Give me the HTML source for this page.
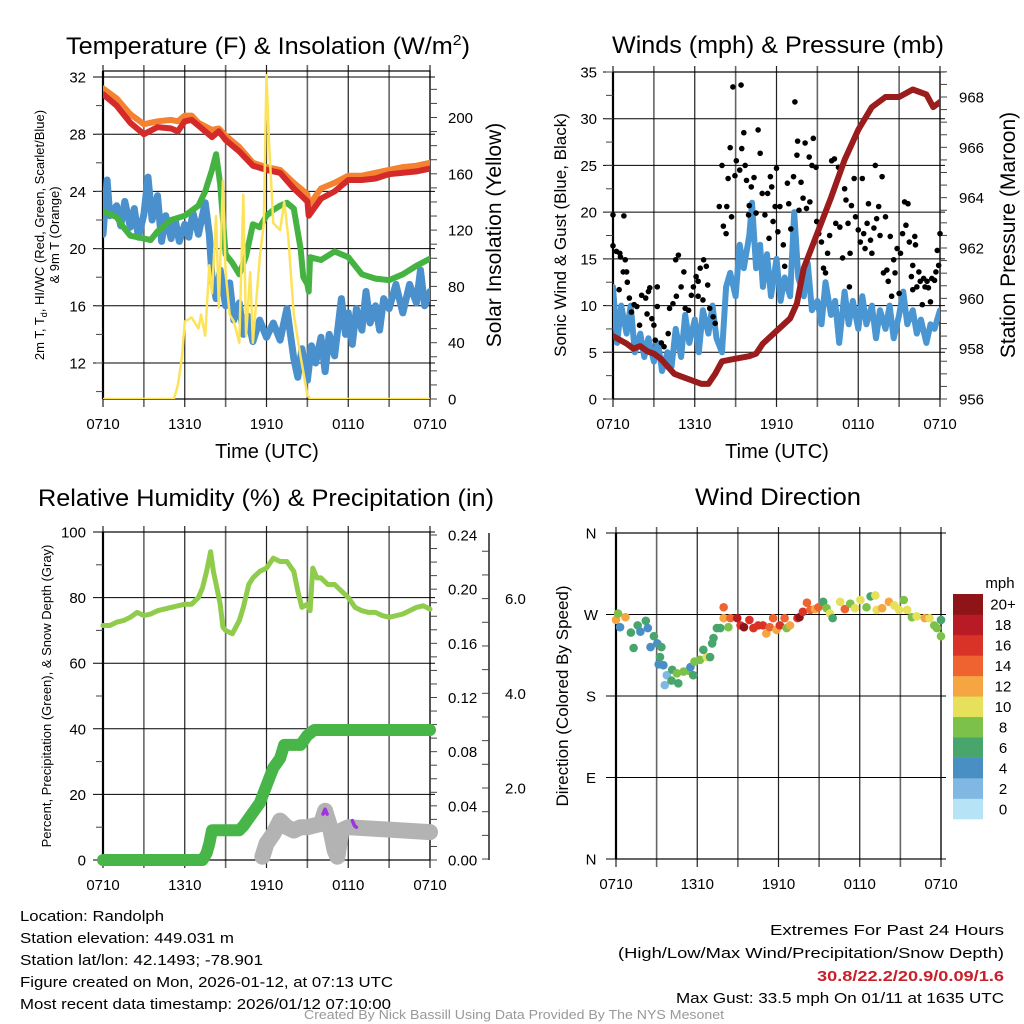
<!DOCTYPE html>
<html><head><meta charset="utf-8"><title>Randolph Meteogram</title>
<style>
html,body{margin:0;padding:0;background:#fff;}
svg{display:block;font-family:"Liberation Sans",Arial,sans-serif;}
</style></head>
<body>
<svg id="root" width="1024" height="1024" viewBox="0 0 1024 1024" xmlns="http://www.w3.org/2000/svg">
<rect x="0" y="0" width="1024" height="1024" fill="#fff"/>
<text x="268" y="54" font-size="24" text-anchor="middle" textLength="404" lengthAdjust="spacingAndGlyphs">Temperature (F) &amp; Insolation (W/m<tspan dy="-9" font-size="15">2</tspan><tspan dy="9">)</tspan></text>
<text x="778" y="53" font-size="24" text-anchor="middle" textLength="332" lengthAdjust="spacingAndGlyphs">Winds (mph) &amp; Pressure (mb)</text>
<text x="266" y="506" font-size="24" text-anchor="middle" textLength="456" lengthAdjust="spacingAndGlyphs">Relative Humidity (%) &amp; Precipitation (in)</text>
<text x="778" y="505" font-size="24" text-anchor="middle" textLength="166" lengthAdjust="spacingAndGlyphs">Wind Direction</text>

<text x="267" y="458" font-size="20" text-anchor="middle">Time (UTC)</text>
<text x="777" y="458" font-size="20" text-anchor="middle">Time (UTC)</text>

<text transform="translate(44,235) rotate(-90)" font-size="13" text-anchor="middle">2m T, T<tspan dy="3" font-size="9">d</tspan><tspan dy="-3">, HI/WC (Red, Green, Scarlet/Blue)</tspan></text>
<text transform="translate(59,235) rotate(-90)" font-size="13" text-anchor="middle">&amp; 9m T (Orange)</text>
<text transform="translate(501,235) rotate(-90)" font-size="21" text-anchor="middle">Solar Insolation (Yellow)</text>
<text transform="translate(566,235) rotate(-90)" font-size="17" text-anchor="middle">Sonic Wind &amp; Gust (Blue, Black)</text>
<text transform="translate(1015,235) rotate(-90)" font-size="21" text-anchor="middle">Station Pressure (Maroon)</text>
<text transform="translate(51,696) rotate(-90)" font-size="13" text-anchor="middle">Percent, Precipitation (Green), &amp; Snow Depth (Gray)</text>
<text transform="translate(568,696) rotate(-90)" font-size="17" text-anchor="middle">Direction (Colored By Speed)</text>

<g font-size="15">
<text x="20" y="921" textLength="144" lengthAdjust="spacingAndGlyphs">Location: Randolph</text>
<text x="20" y="943" textLength="214" lengthAdjust="spacingAndGlyphs">Station elevation: 449.031 m</text>
<text x="20" y="965" textLength="243" lengthAdjust="spacingAndGlyphs">Station lat/lon: 42.1493; -78.901</text>
<text x="20" y="987" textLength="373" lengthAdjust="spacingAndGlyphs">Figure created on Mon, 2026-01-12, at 07:13 UTC</text>
<text x="20" y="1009" textLength="371" lengthAdjust="spacingAndGlyphs">Most recent data timestamp: 2026/01/12 07:10:00</text>
</g>
<g font-size="15" text-anchor="end">
<text x="1004" y="935" textLength="234" lengthAdjust="spacingAndGlyphs">Extremes For Past 24 Hours</text>
<text x="1004" y="958" textLength="386" lengthAdjust="spacingAndGlyphs">(High/Low/Max Wind/Precipitation/Snow Depth)</text>
<text x="1004" y="981" font-weight="bold" fill="#c8202a" textLength="187" lengthAdjust="spacingAndGlyphs">30.8/22.2/20.9/0.09/1.6</text>
<text x="1004" y="1003" textLength="328" lengthAdjust="spacingAndGlyphs">Max Gust: 33.5 mph On 01/11 at 1635 UTC</text>
</g>
<text x="514" y="1019" font-size="13" fill="#999" text-anchor="middle" textLength="420" lengthAdjust="spacingAndGlyphs">Created By Nick Bassill Using Data Provided By The NYS Mesonet</text>
<text x="1000" y="588" font-size="15" text-anchor="middle">mph</text>
</svg>
<script>
// ---------------- DATA ----------------
const xTickLabels = ["0710","1310","1910","0110","0710"];
// Temperature panel (hours since 0710)
const tempHours = [0,1,2,3,4,5,5.5,6,6.5,7,8,8.5,9,10,11,12,13,14,15,15.1,16,17,18,19,20,21,22,23,24];
const tempRed =   [30.8,30.0,28.8,28.0,28.5,28.4,28.2,28.9,29.0,28.6,27.8,28.2,27.6,26.8,25.8,25.5,25.3,24.2,23.3,22.3,23.5,24.0,24.8,24.8,24.9,25.2,25.3,25.4,25.6];
const tempOrange =[31.2,30.5,29.4,28.7,28.9,29.0,28.9,29.3,29.3,28.8,28.3,28.4,27.9,27.1,26.0,25.7,25.5,24.6,23.8,23.0,24.2,24.6,25.1,25.1,25.3,25.5,25.7,25.8,26.0];
const greenHours = [0,1,1.5,2,3,3.5,4,5,6,7,7.5,8,8.3,8.6,9,9.5,10,10.5,11,11.5,12,12.5,13,13.5,14,14.5,14.7,15,15.1,15.2,16,17,18,19,20,21,22,23,24];
const tempGreen = [22.6,22.2,21.5,20.9,20.7,20.6,21.2,22.0,22.3,23.0,24.0,25.5,26.6,24.5,19.6,19.0,18.2,19.5,21.7,21.5,22.3,22.7,23.0,23.2,22.8,20.0,18.0,17.5,17.0,19.4,19.2,19.8,19.4,18.2,17.9,17.8,18.2,18.8,19.3];
const blueHours = [0,0.3,0.5,1,1.3,1.6,2,2.3,2.6,3,3.3,3.6,4,4.3,4.6,5,5.3,5.6,6,6.3,6.6,7,7.5,7.8,8,8.3,8.6,9,9.3,9.6,10,10.3,10.6,11,11.5,12,12.5,13,13.5,14,14.3,14.6,15,15.3,15.6,16,16.3,16.6,17,17.5,17.8,18,18.3,18.6,19,19.3,19.6,20,20.3,20.6,21,21.5,22,22.5,23,23.3,23.6,24];
const tempBlue = [21,24.8,22.3,23.0,21.6,23.3,21.5,22.8,20.8,22.4,25.0,22.0,23.7,20.5,22.3,20.7,22.0,20.5,21.7,20.8,22.5,21.0,23.2,21.0,18.0,16.5,18.5,16.0,17.6,15.0,16.2,14.0,15.3,13.5,15.0,13.8,14.8,13.6,15.8,12.3,11.0,13.0,10.8,13.2,12.0,13.8,11.4,14.0,12.5,16.5,14.0,15.5,13.3,15.8,14.3,17.0,14.8,16.0,14.3,16.5,15.8,17.5,15.5,17.5,16.2,18.5,16.0,17.0];
const solarHours = [0,5.2,5.5,5.8,6,6.5,7,7.2,7.5,7.8,8,8.3,8.5,8.8,9,9.3,9.6,10,10.3,10.5,10.8,11,11.5,11.8,12,12.2,12.5,13,13.3,13.6,14,14.5,15,15.2,24];
const solarVals =  [0,0,10,30,55,58,50,60,45,95,75,130,65,155,90,60,55,40,145,45,90,40,100,125,230,180,125,120,140,115,60,30,3,0,0];
// Winds panel
const presHours = [0,1,1.5,2,2.5,3,3.5,4,4.5,5,6,6.5,7,7.5,8,9,10,10.5,11,12,13,13.5,14,15,16,17,18,19,20,21,22,23,23.5,24];
const presVals =  [958.5,958.2,958.0,958.1,957.9,957.8,957.6,957.3,957.0,956.9,956.7,956.6,956.6,957.0,957.5,957.6,957.7,957.8,958.2,958.7,959.2,959.8,961.2,962.6,964.0,965.5,966.7,967.6,968.0,968.0,968.3,968.1,967.6,967.8];
const windHours = [0,0.3,0.6,1,1.3,1.6,2,2.3,2.6,3,3.3,3.6,4,4.3,4.6,5,5.3,5.6,6,6.3,6.6,7,7.3,7.6,8,8.3,8.6,9,9.3,9.6,10,10.2,10.5,10.8,11,11.3,11.6,12,12.3,12.6,13,13.3,13.6,14,14.3,14.6,15,15.3,15.6,16,16.3,16.6,17,17.3,17.6,18,18.3,18.6,19,19.3,19.6,20,20.3,20.6,21,21.3,21.6,22,22.3,22.6,23,23.3,23.6,24];
const windVals =  [12,6,10,7,10,5,7,4.5,6.5,4,6,3,5,3.5,7.5,4.5,9,6,8.5,5,9.5,7,10,6.5,5,12,13.5,11,16.5,14,17.5,21,14,16.5,12,15.5,11,15,10.5,13,11,20,13,11,14.5,9.5,10.5,8,12.5,9,10.5,6,11.5,8,10.5,7.5,11,8,10,6.5,9.5,7.5,10,6.5,9,11.5,8,9.5,7,8.5,6,8,7.5,9.5];
const gustHours = [0,0,0.25,0.5,0.8,0.55,0.9,0.75,1.0,1.05,0.45,1.2,1.35,1.55,1.75,1.95,2.1,2.4,2.5,2.6,2.7,2.85,3.0,3.25,3.25,3.1,3.55,3.75,4.05,4.15,4.4,4.6,4.8,4.65,5.0,5.2,5.3,5.55,5.75,5.9,6.1,6.25,6.4,6.65,6.85,6.25,6.6,6.95,7.1,7.35,7.5,7.8,8.0,8.1,8.3,8.35,8.45,8.6,8.7,8.8,8.95,9.05,9.3,9.4,9.45,9.6,9.7,9.8,9.95,10.0,10.15,10.35,10.5,10.65,10.8,10.95,11.15,11.35,11.45,11.55,11.65,11.75,11.9,12.0,12.1,12.25,12.5,12.6,12.8,12.9,13.05,13.25,13.35,13.5,13.55,13.65,13.8,13.95,14.1,14.2,14.4,14.45,14.6,14.7,14.9,14.95,15.1,15.3,15.45,15.6,15.75,15.9,16.05,16.25,16.35,16.55,16.65,16.85,17.0,17.1,17.25,17.4,17.35,17.5,17.7,17.8,18.0,18.15,18.3,18.4,18.5,18.65,18.75,18.9,19.0,19.15,19.25,19.35,19.5,19.6,19.75,19.85,20.0,20.1,20.2,20.35,20.45,20.6,20.7,20.85,21.0,21.1,21.25,21.4,21.5,21.65,21.75,21.9,22.0,22.0,22.15,22.2,22.3,22.45,22.55,22.7,22.8,22.9,23.05,23.15,23.3,23.4,23.6,23.7,23.8,23.9,24.0];
const gustVals =  [19.7,16.4,15.8,15.6,19.6,15.2,14.9,13.6,13.6,12.5,11.7,10.8,9.3,10.1,9.9,7.9,11.1,10.8,9.1,11.5,11.9,8.6,7.9,12.0,9.9,6.3,6.0,5.6,7.0,9.7,10.2,14.9,15.4,11.0,12.0,13.6,9.7,9.5,11.1,12.0,13.1,12.6,14.0,14.9,14.2,11.0,10.6,12.2,9.7,8.8,8.1,20.6,25.0,18.5,17.7,20.6,23.6,26.9,19.5,33.4,23.9,25.5,24.5,33.6,26.8,28.5,25.0,23.4,19.7,20.7,22.7,23.7,19.9,28.8,26.3,22.0,19.7,22.0,17.2,23.8,22.7,19.0,20.6,24.7,17.9,20.6,16.5,14.2,23.1,20.9,18.2,23.8,31.8,26.1,27.6,20.2,23.2,21.5,27.4,20.4,25.9,21.1,25.0,27.9,24.8,19.0,17.7,16.8,14.0,13.5,15.6,17.5,25.5,25.7,18.8,24.8,18.4,15.1,22.5,21.3,18.8,15.6,12.0,20.7,23.6,19.5,18.1,16.8,23.6,17.7,16.1,18.8,20.9,17.0,15.6,18.3,25.0,19.3,20.6,17.5,23.8,13.5,19.5,13.8,12.6,17.4,11.0,14.9,13.5,16.1,11.3,15.6,17.7,21.1,18.6,20.9,16.8,13.1,14.3,11.7,17.4,16.5,12.0,13.6,12.6,10.1,12.9,12.0,12.6,11.9,10.4,12.9,12.7,13.6,15.9,14.3,17.7];
// Humidity panel
const rhHours = [0,0.5,1,1.5,2,2.5,3,3.5,4,5,6,6.5,7,7.3,7.6,7.9,8.1,8.4,8.6,8.8,9,9.5,10,10.3,10.7,11,11.5,12,12.5,13,13.5,14,14.3,14.6,15,15.2,15.4,15.7,16,16.5,17,17.5,18,18.5,19,19.5,20,20.5,21,22,23,23.5,24];
const rhVals =  [71.5,71.5,72.5,73,74,75.5,74.5,75,76,77,78,78,80,83,88,94,88,82,78,71,70,69,73,77,84,86,88,89,92,91,91,88,82,77,78,76,89,86,86,84,84,82,80,77,76,75.5,75.5,74.5,74,75,77,77.5,76.5];
const precipHours = [0,7.3,7.6,7.8,8,9,10,10.3,11,11.5,12,12.5,13,13.3,14,14.5,15,15.5,24];
const precipVals =  [0,0,0.005,0.012,0.022,0.022,0.022,0.025,0.035,0.042,0.055,0.068,0.075,0.085,0.085,0.085,0.092,0.096,0.096];
const snowHours = [11.7,12,12.5,13,13.5,14,14.5,15,16,16.3,16.6,17,17.2,17.5,18,24];
const snowVals =  [1,5,8,12,10,9,10,10,11,15,11,3,1,9,10,8.5];
const purpleHours1 = [16.15,16.3,16.45]; const purpleVals1 = [14,15.5,14];
const purpleHours2 = [18.3,18.45,18.6]; const purpleVals2 = [12,10.5,10];
// Wind direction panel
const dirHours = [0,0.15,0.3,0.7,1.1,1.3,1.6,1.8,2.2,2.35,2.8,2.55,3.05,3.35,3.25,3.15,3.50,3.75,3.6,4.15,4.1,4.5,4.6,4.99,5.35,5.7,5.5,5.8,6.2,6.7,6.95,6.45,7.1,7.2,7.45,7.7,8.3,7.95,7.95,8.45,8.95,9.2,9.45,9.85,10.15,10.5,10.85,11.1,11.35,11.6,11.85,12.1,12.45,12.6,12.85,13.4,13.55,13.8,14.1,14.35,14.7,14.95,15.3,15.55,15.8,16.0,16.55,16.9,17.3,17.65,18.05,18.5,18.8,19.25,19.15,19.65,20.15,20.55,20.9,21.25,21.5,21.85,22.2,22.8,23.15,23.5,23.7,24.0,24.0];
const dirDeg =  [264,271,256,267,250,233,258,251,263,255,246,234,238,234,223,215,214,203,192,209,197,205,194,207,208,203,212,218,220,223,223,231,238,244,255,255,256,278,266,266,266,258,256,264,255,258,258,249,256,266,253,258,266,255,258,266,267,273,283,275,276,278,284,277,271,266,284,276,282,277,286,278,290,275,291,277,284,280,275,286,275,267,268,266,266,258,255,246,264];
const dirSpeed = [12,8,4,12,6,6,6,4,6,5,6,4,4,6,6,4,4,2,2,6,6,8,6,8,8,6,4,8,8,10,6,6,6,6,6,6,8,14,12,14,18,16,20,16,16,16,16,12,14,14,12,16,14,8,12,16,20,16,14,14,12,14,6,8,10,6,10,14,8,10,10,8,6,10,10,12,12,10,10,8,10,8,10,12,10,8,8,8,6];
const speedColors = ["#b7e3f6","#7fb9e3","#4a8fc4","#48a56c","#7cc24a","#e6e05a","#f5a542","#ef6330","#d93327","#b81b25","#8f1418"];
const speedLabels = ["0","2","4","6","8","10","12","14","16","18","20+"];

// ---------------- DRAWING ----------------
const NS = "http://www.w3.org/2000/svg";
const root = document.getElementById("root");
function mk(tag, attrs, parent) {
  const el = document.createElementNS(NS, tag);
  for (const k in attrs) el.setAttribute(k, attrs[k]);
  (parent || root).appendChild(el);
  return el;
}
function scale(d0, d1, r0, r1) { return v => r0 + (v - d0) / (d1 - d0) * (r1 - r0); }
function pathD(xs, ys, fx, fy) { return xs.map((h, i) => (i ? "L" : "M") + fx(h).toFixed(1) + "," + fy(ys[i]).toFixed(1)).join(""); }

function frame(name, x0, x1, y0, y1, hGrid, fy) {
  const g = mk("g", {});
  
  
  for (let i = 0; i <= 8; i++) {
    const x = x0 + i * (x1 - x0) / 8;
    const ln = mk("line", {x1: x, x2: x, y1: y0 - 6, y2: y1 + 8, stroke: i % 2 ? "#666" : "#222", "stroke-width": i % 2 ? 1.6 : 1.2}, g);
    
    
  }
  hGrid.forEach(v => {
    const y = fy(v);
    const ln = mk("line", {x1: x0 - 10, x2: x1 + 5, y1: y, y2: y, stroke: "#000", "stroke-width": 1}, g);
    
    
  });
  const b = mk("rect", {x: x0, y: y0, width: x1 - x0, height: y1 - y0, fill: "none", stroke: "#000", "stroke-width": 1.2}, g);
  
  
  const lb = mk("line", {x1: x0, x2: x0, y1: y0, y2: y1, stroke: "#000", "stroke-width": 2.2}, g);
  
  
  xTickLabels.forEach((t, i) => {
    const tx = mk("text", {x: x0 + i * (x1 - x0) / 4, y: y1 + 30, "font-size": 15, "text-anchor": "middle"}, g);
    tx.textContent = t;
    
    
  });
}
function labels(name, vals, fy, x, anchor, fmt) {
  vals.forEach(v => {
    const t = mk("text", {x: x, y: fy(v) + 5.5, "font-size": 15, "text-anchor": anchor});
    t.textContent = fmt ? fmt(v) : String(v);
    
    
  });
}
function ticks(name, x, from, to, step, fy, len, w) {
  for (let v = from; v <= to + 1e-9; v += step) {
    const ln = mk("line", {x1: x, x2: x + len, y1: fy(v), y2: fy(v), stroke: "#444", "stroke-width": w || 1});
    
    
  }
}
function line(name, xs, ys, fx, fy, color, w, clip) {
  const p = mk("path", {d: pathD(xs, ys, fx, fy), fill: "none", stroke: color, "stroke-width": w, "stroke-linejoin": "round", "stroke-linecap": "round"});
  if (clip) p.setAttribute("clip-path", clip);
  
  
  return p;
}

// Clip paths
const defs = mk("defs", {});
[["clipTL",103,71,327,328],["clipTR",613,71,327,328]].forEach(c => {
  const cp = mk("clipPath", {id: c[0]}, defs);
  mk("rect", {x: c[1], y: c[2], width: c[3], height: c[4]}, cp);
});

// ---- Panel 1: Temperature ----
{
  const fx = scale(0, 24, 103, 430), fy = scale(12, 32, 363, 77), fs = scale(0, 200, 399, 117.5);
  frame("temperature", 103, 430, 71, 399, [12,16,20,24,28,32], fy);
  labels("temperature-y-tick-label", [12,16,20,24,28,32], fy, 86, "end");
  ticks("temperature-minor-tick", 96, 10, 30, 2, fy, 7);
  labels("insolation-y-tick-label", [0,40,80,120,160,200], fs, 448, "start");
  ticks("insolation-tick", 430, 0, 220, 10, fs, 7);
  line("dewpoint-blue-line", blueHours, tempBlue, fx, fy, "#4a90cc", 7, "url(#clipTL)");
  line("green-line", greenHours, tempGreen, fx, fy, "#45b342", 6, "url(#clipTL)");
  line("orange-9m-temp-line", tempHours, tempOrange, fx, fy, "#f58231", 6, "url(#clipTL)");
  line("red-2m-temp-line", tempHours, tempRed, fx, fy, "#d42a2a", 6, "url(#clipTL)");
  line("solar-insolation-line", solarHours, solarVals, fx, fs, "#fde35a", 2.5, "url(#clipTL)");
}

// ---- Panel 2: Winds ----
{
  const fx = scale(0, 24, 613, 940), fy = scale(0, 35, 399, 72), fp = scale(956, 968, 399, 97);
  frame("winds", 613, 940, 72, 399, [0,5,10,15,20,25,30,35], fy);
  labels("wind-y-tick-label", [0,5,10,15,20,25,30,35], fy, 597, "end");
  ticks("wind-minor-tick", 606, 0, 35, 2.5, fy, 7);
  labels("pressure-y-tick-label", [956,958,960,962,964,966,968], fp, 959, "start");
  ticks("pressure-tick", 940, 956, 969, 0.5, fp, 7);
  line("sonic-wind-line", windHours, windVals, fx, fy, "#4a96d2", 6, "url(#clipTR)");
  gustHours.forEach((h, i) => {
    const c = mk("circle", {cx: fx(h), cy: fy(gustVals[i]), r: 2.8, fill: "#000"});
    
    
  });
  line("station-pressure-line", presHours, presVals, fx, fp, "#9b1c1c", 6, "url(#clipTR)");
}

// ---- Panel 3: Humidity ----
{
  const fx = scale(0, 24, 103, 430), fy = scale(0, 100, 860, 532), fpr = scale(0, 0.24, 860, 535), fsd = scale(0, 2, 882.7, 788);
  frame("humidity", 103, 430, 532, 860, [0,20,40,60,80,100], fy);
  labels("humidity-y-tick-label", [0,20,40,60,80,100], fy, 86, "end");
  ticks("humidity-minor-tick", 96, 10, 90, 20, fy, 7);
  labels("precip-y-tick-label", [0,0.04,0.08,0.12,0.16,0.20,0.24], fpr, 448, "start", v => v.toFixed(2));
  ticks("precip-tick", 430, 0, 0.24, 0.01, fpr, 7);
  const ax = mk("line", {x1: 489, x2: 489, y1: 533, y2: 860, stroke: "#222", "stroke-width": 1.5});
  
  
  labels("snow-depth-tick-label", [2,4,6], fsd, 505, "start", v => v.toFixed(1));
  ticks("snow-depth-tick", 482, 0.5, 7.0, 0.5, fsd, 7);
  line("precipitation-line", precipHours, precipVals, fx, fpr, "#48b548", 12);
  line("snow-depth-line", snowHours, snowVals, fx, fy, "#b3b3b3", 16);
  line("snow-purple-segment-1", purpleHours1, purpleVals1, fx, fy, "#a033e0", 3.5);
  line("snow-purple-segment-2", purpleHours2, purpleVals2, fx, fy, "#a033e0", 3.5);
  line("relative-humidity-line", rhHours, rhVals, fx, fy, "#8fcc4c", 5);
}

// ---- Panel 4: Wind Direction ----
{
  const fx = scale(0, 24, 616, 941), fy = scale(0, 360, 859, 533);
  frame("direction", 616, 941, 533, 859, [0,90,180,270,360], fy);
  const dirNames = ["N","E","S","W","N"];
  [0,90,180,270,360].forEach((v, i) => {
    const t = mk("text", {x: 591, y: fy(v) + 5.5, "font-size": 15, "text-anchor": "middle"});
    t.textContent = dirNames[i];
    
    
  });
  dirHours.forEach((h, i) => {
    const idx = Math.max(0, Math.min(10, Math.floor(dirSpeed[i] / 2)));
    const c = mk("circle", {cx: fx(h), cy: fy(dirDeg[i]), r: 4.3, fill: speedColors[idx]});
    
    
  });
  const boxH = 225 / 11;
  speedColors.forEach((col, i) => {
    const y = 819 - (i + 1) * boxH;
    const r = mk("rect", {x: 953, y: y, width: 30, height: boxH + 0.3, fill: col});
    
    
    const t = mk("text", {x: 1003, y: y + boxH / 2 + 5.5, "font-size": 15, "text-anchor": "middle"});
    t.textContent = speedLabels[i];
    
    
  });
}
</script>
</body></html>
